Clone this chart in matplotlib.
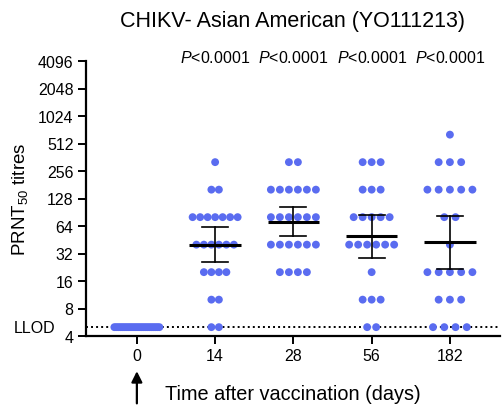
import numpy as np
import matplotlib
matplotlib.use("Agg")
import matplotlib.pyplot as plt

plt.rcParams['font.family'] = ['Liberation Sans', 'DejaVu Sans']
plt.rcParams['mathtext.fontset'] = 'custom'
plt.rcParams['mathtext.rm'] = 'Liberation Sans'
plt.rcParams['mathtext.it'] = 'Liberation Sans:italic'
plt.rcParams['mathtext.default'] = 'regular'

# ---------------- data ----------------
days = ['0', '14', '28', '56', '182']
day0_titres = [5] * 24
day14_titres = [320] + [160] * 2 + [80] * 7 + [40] * 6 + [20] * 4 + [10] * 2 + [5] * 2
day28_titres = [320] * 2 + [160] * 6 + [80] * 6 + [40] * 6 + [20] * 4
day56_titres = [320] * 3 + [160] * 3 + [80] * 5 + [40] * 6 + [20] * 1 + [10] * 3 + [5] * 2
day182_titres = [640] + [320] * 3 + [160] * 5 + [80] * 2 + [40] * 1 + [20] * 5 + [10] * 3 + [5] * 4
all_titres = [day0_titres, day14_titres, day28_titres, day56_titres, day182_titres]
p_labels = ['', r'$\mathit{P}$<0.0001', r'$\mathit{P}$<0.0001', r'$\mathit{P}$<0.0001', r'$\mathit{P}$<0.0001']
llod = 5
ytick_vals = [4, 8, 16, 32, 64, 128, 256, 512, 1024, 2048, 4096]

dot_color = '#5a6cf0'

fig = plt.figure(figsize=(5.04, 4.10), dpi=100)
ax = fig.add_axes([86 / 504, 1 - 337 / 410, (500 - 86) / 504, 275 / 410])

row_width = 0.575  # width occupied by widest row of dots


def t_crit(df, z=1.959964):
    return z + (z ** 3 + z) / (4 * df) + (5 * z ** 5 + 16 * z ** 3 + 3 * z) / (96 * df ** 2)


for i, vals in enumerate(all_titres):
    vals = np.asarray(vals, dtype=float)
    levels, counts = np.unique(vals, return_counts=True)
    maxc = counts.max()
    spacing = row_width / (maxc - 1) if maxc > 1 else 0
    xs, ys = [], []
    for lv, c in zip(levels, counts):
        offs = (np.arange(c) - (c - 1) / 2) * spacing
        xs.extend(i + offs)
        ys.extend([lv] * c)
    ax.scatter(xs, ys, s=32, color=dot_color, edgecolors='none', zorder=3, clip_on=False)

    lg = np.log2(vals)
    sd = lg.std(ddof=1)
    if sd > 0:
        n = len(lg)
        m = lg.mean()
        half = t_crit(n - 1) * sd / np.sqrt(n)
        gm, lo, hi = 2 ** m, 2 ** (m - half), 2 ** (m + half)
        ax.plot([i - 0.33, i + 0.33], [gm, gm], color='black', lw=2.2, zorder=4, solid_capstyle='butt')
        ax.plot([i, i], [lo, hi], color='black', lw=1.2, zorder=4)
        ax.plot([i - 0.165, i + 0.165], [lo, lo], color='black', lw=1.2, zorder=4)
        ax.plot([i - 0.165, i + 0.165], [hi, hi], color='black', lw=1.2, zorder=4)
    if p_labels[i]:
        ax.text(i, 1.015, p_labels[i], transform=ax.get_xaxis_transform(),
                ha='center', va='center', fontsize=11.5)

# LLOD line
ax.axhline(llod, color='black', lw=1.4, ls=(0, (1, 1.6)), zorder=2)
ax.text(-0.075, llod, 'LLOD', transform=ax.get_yaxis_transform(), ha='right', va='center', fontsize=11.5)

ax.set_yscale('log', base=2)
ax.set_ylim(4, 4096)
ax.set_yticks(ytick_vals)
ax.set_yticklabels([str(v) for v in ytick_vals])
ax.yaxis.set_minor_locator(matplotlib.ticker.NullLocator())
ax.set_xlim(-0.65, 4.64)
ax.set_xticks(range(len(days)))
ax.set_xticklabels(days)

for s in ['top', 'right']:
    ax.spines[s].set_visible(False)
for s in ['left', 'bottom']:
    ax.spines[s].set_linewidth(1.6)
ax.tick_params(axis='both', width=1.4, length=6, labelsize=11.5, pad=3)

ax.set_ylabel('PRNT$_{50}$ titres', fontsize=13.5, labelpad=6)
ax.set_xlabel('Time after vaccination (days)', fontsize=14.3, labelpad=15)

fig.text((86 + 500) / 2 / 504, 1 - 21 / 410, 'CHIKV- Asian American (YO111213)',
         ha='center', va='center', fontsize=15.5)

# vaccination arrow under day 0
ax.annotate('', xy=(0, -0.128), xytext=(0, -0.245),
            xycoords=ax.get_xaxis_transform(), textcoords=ax.get_xaxis_transform(),
            arrowprops=dict(arrowstyle='-|>', color='black', lw=1.6, mutation_scale=16,
                            shrinkA=0, shrinkB=0),
            annotation_clip=False)

fig.savefig('out.png', dpi=100)
